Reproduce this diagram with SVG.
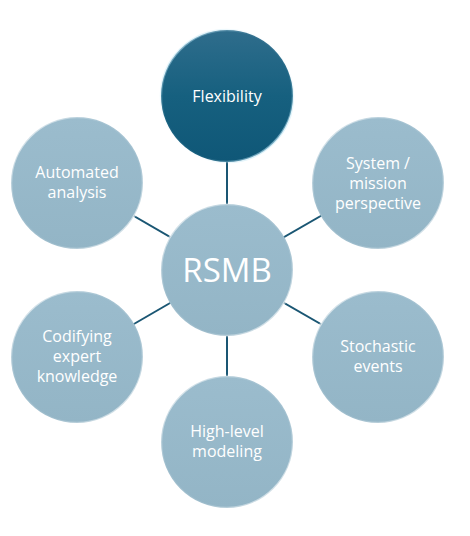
<svg xmlns="http://www.w3.org/2000/svg" width="470" height="536" viewBox="0 0 470 536">
<defs>
<linearGradient id="lightFill" x1="0" y1="0" x2="0" y2="1">
<stop offset="0" stop-color="#9bbccd"/>
<stop offset="1" stop-color="#93b5c6"/>
</linearGradient>
<linearGradient id="darkFill" x1="0" y1="0" x2="0" y2="1">
<stop offset="0" stop-color="#2f6d8c"/>
<stop offset="0.5" stop-color="#16607f"/>
<stop offset="1" stop-color="#0f5777"/>
</linearGradient>
<linearGradient id="rim" x1="0" y1="0" x2="1" y2="1">
<stop offset="0" stop-color="#ffffff" stop-opacity="0.9"/>
<stop offset="0.35" stop-color="#ffffff" stop-opacity="0.1"/>
<stop offset="0.65" stop-color="#ffffff" stop-opacity="0.1"/>
<stop offset="1" stop-color="#ffffff" stop-opacity="0.9"/>
</linearGradient>
<linearGradient id="rimDark" x1="0" y1="0" x2="1" y2="1">
<stop offset="0" stop-color="#bfe6f5" stop-opacity="0.8"/>
<stop offset="0.35" stop-color="#bfe6f5" stop-opacity="0.05"/>
<stop offset="0.65" stop-color="#bfe6f5" stop-opacity="0.05"/>
<stop offset="1" stop-color="#bfe6f5" stop-opacity="0.9"/>
</linearGradient>
</defs>
<style>
.light{fill:url(#lightFill);stroke:url(#rim);stroke-width:2.5}
.dark{fill:url(#darkFill);stroke:url(#rimDark);stroke-width:2.5}
.lbl{font-family:"Open Sans","Liberation Sans",sans-serif;font-size:16px;fill:#ffffff;text-anchor:middle}
.big{font-family:"Open Sans","Liberation Sans",sans-serif;font-size:33px;fill:#ffffff;text-anchor:middle}
.conn{stroke:#1a5673;stroke-width:2;fill:none}
</style>
<rect width="470" height="536" fill="#ffffff"/>
<g id="connectors">
<line class="conn" x1="227" y1="270" x2="227" y2="96"/>
<line class="conn" x1="227" y1="270" x2="77" y2="183"/>
<line class="conn" x1="227" y1="270" x2="378" y2="183"/>
<line class="conn" x1="227" y1="270" x2="77" y2="357"/>
<line class="conn" x1="227" y1="270" x2="378" y2="357"/>
<line class="conn" x1="227" y1="270" x2="227" y2="442"/>
</g>
<g id="flexibility">
<circle class="dark" cx="227" cy="96" r="66"/>
<text class="lbl" x="227" y="102">Flexibility</text>
</g>
<g id="automated-analysis">
<circle class="light" cx="77" cy="183" r="66"/>
<text class="lbl" x="77" y="178">Automated</text>
<text class="lbl" x="77" y="198">analysis</text>
</g>
<g id="system-mission">
<circle class="light" cx="378" cy="183" r="66"/>
<text class="lbl" x="378" y="169">System /</text>
<text class="lbl" x="378" y="189">mission</text>
<text class="lbl" x="378" y="209">perspective</text>
</g>
<g id="rsmb">
<circle class="light" cx="227" cy="270" r="66"/>
<text class="big" x="227" y="282">RSMB</text>
</g>
<g id="codifying">
<circle class="light" cx="77" cy="357" r="66"/>
<text class="lbl" x="77" y="342">Codifying</text>
<text class="lbl" x="77" y="362">expert</text>
<text class="lbl" x="77" y="382">knowledge</text>
</g>
<g id="stochastic">
<circle class="light" cx="378" cy="357" r="66"/>
<text class="lbl" x="378" y="352">Stochastic</text>
<text class="lbl" x="378" y="372">events</text>
</g>
<g id="high-level">
<circle class="light" cx="227" cy="442" r="66"/>
<text class="lbl" x="227" y="437">High-level</text>
<text class="lbl" x="227" y="457">modeling</text>
</g>
</svg>
